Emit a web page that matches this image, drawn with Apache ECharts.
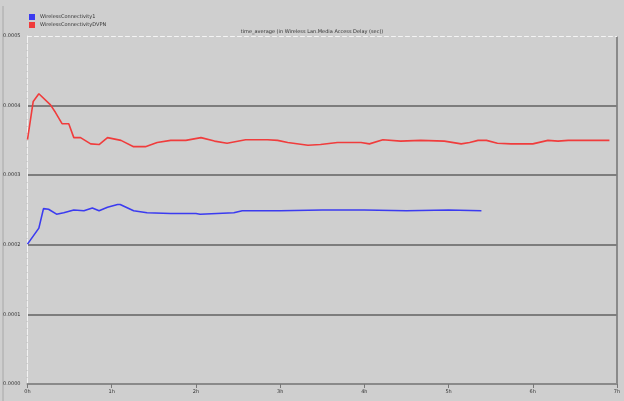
<!DOCTYPE html>
<html>
<head>
<meta charset="utf-8">
<script src="https://cdn.jsdelivr.net/npm/echarts@6/dist/echarts.min.js"></script>
<style>html,body{margin:0;padding:0;background:#cfcfcf;}#c{width:624px;height:401px;}</style>
</head>
<body>
<div id="c"></div>
<script>
var chartTitle = 'time_average (in Wireless Lan.Media Access Delay (sec))';
var seriesNames = ['WirelessConnectivity1', 'WirelessConnectivityDVPN'];
var xTickSuffix = 'h';
var yMax = 0.0005;

var redHours = [0, 0.068, 0.135, 0.273, 0.333, 0.41, 0.49, 0.55, 0.63, 0.75, 0.85, 0.95, 1.11, 1.26, 1.40, 1.54, 1.70, 1.88, 2.06, 2.22, 2.37, 2.59, 2.85, 2.97, 3.09, 3.33, 3.48, 3.68, 3.96, 4.06, 4.22, 4.43, 4.67, 4.95, 5.15, 5.25, 5.35, 5.45, 5.58, 5.74, 6.0, 6.18, 6.30, 6.42, 6.91];
var redValues = [0.000351, 0.000406, 0.000417, 0.000401, 0.000390, 0.000374, 0.000374, 0.000354, 0.000354, 0.000345, 0.000344, 0.000354, 0.000350, 0.000341, 0.000341, 0.000347, 0.000350, 0.000350, 0.000354, 0.000349, 0.000346, 0.000351, 0.000351, 0.000350, 0.000347, 0.000343, 0.000344, 0.000347, 0.000347, 0.000345, 0.000351, 0.000349, 0.000350, 0.000349, 0.000345, 0.000347, 0.000350, 0.000350, 0.000346, 0.000345, 0.000345, 0.000350, 0.000349, 0.000350, 0.000350];

var blueHours = [0, 0.135, 0.19, 0.25, 0.345, 0.43, 0.55, 0.67, 0.77, 0.85, 0.95, 1.07, 1.1, 1.26, 1.42, 1.70, 2.0, 2.05, 2.45, 2.55, 3.0, 3.5, 4.0, 4.5, 5.0, 5.39];
var blueValues = [0.000201, 0.000224, 0.000252, 0.000251, 0.000244, 0.000246, 0.000250, 0.000249, 0.000253, 0.000249, 0.000254, 0.000258, 0.000258, 0.000249, 0.000246, 0.000245, 0.000245, 0.000244, 0.000246, 0.000249, 0.000249, 0.000250, 0.000250, 0.000249, 0.000250, 0.000249];

function zip(xs, ys) { return xs.map(function (x, i) { return [x, ys[i]]; }); }

var chart = echarts.init(document.getElementById('c'), null, {renderer: 'canvas'});
chart.setOption({
  backgroundColor: '#cfcfcf',
  animation: false,
  title: {
    text: chartTitle, left: 'center', top: 24,
    textStyle: {fontSize: 5, fontWeight: 'normal', color: '#333', fontFamily: 'DejaVu Sans'}
  },
  legend: {
    orient: 'vertical', left: 24, top: 9, itemGap: 2, itemWidth: 6, itemHeight: 6, icon: 'rect',
    textStyle: {fontSize: 5, color: '#333', fontFamily: 'DejaVu Sans'},
    data: seriesNames
  },
  graphic: [
    {type: 'line', shape: {x1: 3, y1: 6, x2: 3, y2: 401}, style: {stroke: '#a8a8a8', lineWidth: 1}},
    {type: 'line', shape: {x1: 617, y1: 36, x2: 617, y2: 384}, style: {stroke: '#8a8a8a', lineWidth: 2}}
  ],
  grid: {left: 27, right: 7, top: 36, bottom: 17, containLabel: false},
  xAxis: [{
    type: 'value', min: 0, max: 7, interval: 1, position: 'bottom',
    axisLine: {show: true, onZero: false, lineStyle: {color: '#8a8a8a', width: 2}},
    axisTick: {show: true, length: 4, lineStyle: {color: '#777'}},
    axisLabel: {fontSize: 5, color: '#333', margin: 5, fontFamily: 'DejaVu Sans', formatter: function (v) { return v + xTickSuffix; }},
    splitLine: {show: false}
  }, {
    type: 'value', min: 0, max: 7, interval: 1, position: 'top',
    axisLine: {show: true, onZero: false, lineStyle: {color: '#f4f4f4', width: 1, type: [4, 3]}},
    axisTick: {show: false}, axisLabel: {show: false}, splitLine: {show: false}
  }],
  yAxis: {
    type: 'value', min: 0, max: yMax, interval: 0.0001,
    axisLine: {show: true, onZero: false, lineStyle: {color: '#f2f2f2', width: 1}},
    axisTick: {show: false},
    minorTick: {show: true, splitNumber: 10, length: 1, lineStyle: {color: '#bdbdbd'}},
    axisLabel: {fontSize: 5, color: '#333', margin: 7, fontFamily: 'DejaVu Sans', formatter: function (v) { return v.toFixed(4); }},
    splitLine: {show: true, showMaxLine: false, showMinLine: false, lineStyle: {color: '#7d7d7d', width: 2}}
  },
  series: [
    {name: seriesNames[0], type: 'line', xAxisIndex: 0, showSymbol: false, symbol: 'none', color: '#3b3bf0',
     lineStyle: {width: 1.6, color: '#3b3bf0'}, data: zip(blueHours, blueValues)},
    {name: seriesNames[1], type: 'line', xAxisIndex: 0, showSymbol: false, symbol: 'none', color: '#f03c3c',
     lineStyle: {width: 1.6, color: '#f03c3c'}, data: zip(redHours, redValues)}
  ]
});
</script>
</body>
</html>
